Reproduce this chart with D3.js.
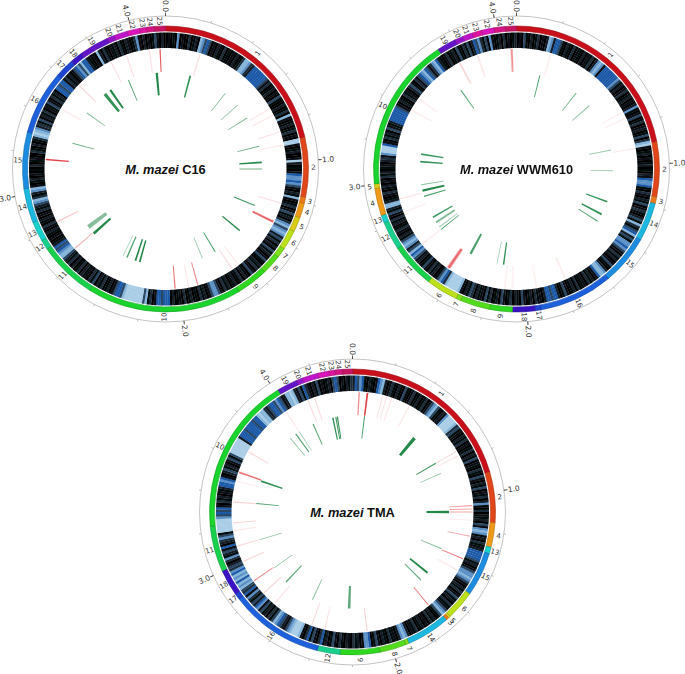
<!DOCTYPE html>
<html>
<head>
<meta charset="utf-8">
<script src="https://cdn.jsdelivr.net/npm/d3@7"></script>
<style>
  body { margin: 0; background: #fff; }
  svg { display: block; }
  .mb-label, .contig-label { font-family: "DejaVu Sans", sans-serif; fill: #333; }
  .title { font-family: "Liberation Sans", Arial, sans-serif; font-weight: bold; fill: #111; }
</style>
</head>
<body>
<div id="chart"></div>
<script>
// marks below were read on one common ruler, each genome's axis has its own length
const rulerMb = 4.16;
const c16Mb = 4.16, wwmMb = 4.096, tmaMb = 4.4;

// contig id -> ribbon colour
const contigColors = ['#c9101a','#e0461a','#ea7a1a','#ee9a18','#d8cc18','#bce01a','#7ee01a','#52dc1c','#2ed81e','#18d42c',
  '#18d04c','#18d08c','#18d0cc','#1cb8e0','#1c8ce0','#1c60dc','#1c44d0','#3a14c4','#6414c8','#9414c8',
  '#c014c8','#dc14bc','#dc14a0','#d41484','#c81464'];

// C16
const c16Contigs = [1,2,3,4,5,6,7,8,9,10,11,12,13,14,15,16,17,18,19,20,21,22,23,24,25];
const c16Ends = [0.892,1.173,1.202,1.271,1.340,1.433,1.479,1.572,1.722,2.450,2.727,2.773,2.866,3.028,3.293,3.594,3.686,3.744,3.883,3.917,3.981,4.039,4.073,4.108,4.16];
const c16Heat = [
  0,2,0,1,0,7,0,2,0,0,4,0,1,3,0,8,7,5,6,5,0,2,0,3,1,0,4,0,1,0,
  2,0,3,0,1,4,8,8,7,4,3,6,6,6,6,6,6,6,5,2,4,0,1,3,0,2,0,5,1,0,
  0,3,0,1,4,0,8,2,0,1,3,0,1,4,0,2,0,9,9,2,0,1,3,0,0,2,9,3,0,1,
  0,2,6,7,7,6,7,5,2,0,3,1,8,2,0,1,4,0,2,5,1,3,0,4,7,8,5,7,8,7,
  3,5,1,4,0,3,0,5,1,3,0,2,5,1,0,3,1,4,0,2,5,0,1,3,0,4,1,0,3,1,
  0,3,1,4,0,2,5,7,7,5,2,0,3,1,4,0,1,0,3,1,0,4,0,2,1,0,3,0,6,6,
  6,5,6,6,2,0,4,1,8,5,9,9,9,9,9,9,9,9,8,5,6,6,5,2,0,3,1,0,4,1,
  3,0,5,1,4,0,2,1,3,0,4,1,0,3,0,4,1,3,5,8,8,7,6,5,6,3,1,0,2,0,
  1,3,0,2,4,0,1,3,0,2,0,4,1,3,5,7,8,4,1,3,7,8,2,0,1,3,0,2,0,1,
  0,3,0,1,2,0,0,4,1,0,3,0,1,4,8,9,8,7,3,4,1,5,0,3,1,4,0,2,1,5,
  2,0,4,1,3,0,6,6,5,6,6,2,4,1,3,0,2,5,6,7,5,8,6,6,3,1,0,2,0,8,
  3,0,4,1,0,2,1,3,0,4,1,0,3,2,0,1,4,7,2,0,3,0,2,0,1,5,2,0,3,0];
const c16RedPos = [4.130,4.070,3.941,3.848,3.629,3.467,3.172,2.820,2.643,2.027,1.951,1.900,1.691,1.649,1.341,1.230,0.907,0.832,0.734,0.693,0.193];
const c16RedLen = [.007,.006,.006,.006,.006,.006,.008,.006,.006,.007,.006,.007,.006,.006,.012,.006,.006,.006,.006,.006,.006];
const c16RedScore = [.8,.22,.22,.22,.28,.18,.9,.4,.5,.7,.18,.6,.25,.18,.75,.22,.2,.2,.2,.2,.25];
const c16GreenPos = [4.100,0.172,3.899,3.756,3.710,3.530,3.299,0.443,0.560,0.670,0.882,0.994,1.040,1.297,1.499,1.722,1.820,2.259,2.290,2.352,2.381,2.635,2.693];
const c16GreenLen = [.016,.012,.007,.016,.022,.007,.007,.006,.006,.007,.007,.012,.012,.008,.01,.008,.006,.012,.012,.01,.005,.018,.03];
const c16GreenScore = [.95,.9,.8,.95,.9,.6,.7,.6,.6,.7,.7,.95,.5,.85,.9,.8,.55,.95,.95,.8,.5,.95,.6];

// WWM610
const wwmContigs = [1,2,3,14,15,16,17,18,9,8,7,6,11,12,13,4,5,10,19,20,21,23,22,24,25];
const wwmEnds = [0.912,1.171,1.202,1.383,1.618,1.964,1.993,2.099,2.207,2.346,2.369,2.519,2.731,2.866,2.901,3.030,3.051,3.777,3.866,3.906,3.952,3.998,4.056,4.108,4.16];
const wwmHeat = [
  0,2,0,5,1,0,3,0,1,4,0,2,0,3,8,7,3,6,6,5,1,0,3,1,0,4,0,2,1,0,
  3,0,2,1,4,0,3,7,8,7,2,6,6,6,6,6,6,6,7,5,1,3,0,2,4,0,1,3,0,2,
  0,3,7,1,0,2,5,0,1,4,0,2,3,0,1,5,0,4,8,9,2,0,1,3,0,2,0,1,3,0,
  1,0,3,2,6,7,7,6,1,0,4,2,0,3,1,5,0,2,4,1,0,3,5,1,8,4,1,5,6,8,
  3,5,1,7,7,6,7,5,2,0,4,1,3,0,2,5,1,0,3,7,8,8,6,2,0,3,1,4,0,2,
  1,0,4,0,3,1,0,2,5,1,0,3,6,6,5,6,6,3,0,2,1,4,0,3,1,0,2,5,0,1,
  3,0,4,1,0,2,5,0,3,1,0,4,1,5,0,2,1,3,0,4,5,1,3,0,2,8,9,9,9,9,
  9,8,4,6,7,5,1,0,3,1,4,0,2,5,1,0,3,2,5,7,6,8,5,3,7,8,7,5,1,3,
  0,2,4,1,0,3,1,4,0,2,5,1,3,8,8,3,1,0,2,4,0,1,3,0,2,0,4,1,3,0,
  1,2,0,3,4,2,7,9,9,9,6,2,0,4,1,3,0,5,2,1,3,6,6,6,6,6,6,5,2,0,
  3,1,0,4,1,2,0,3,5,1,0,4,2,5,6,7,8,6,5,2,4,7,8,6,3,1,0,2,4,0,
  1,3,0,5,1,0,4,1,5,0,3,6,5,7,4,1,5,0,7,2,0,1,3,0,4,0,2,0,1,3];
const wwmRedPos = [4.133,3.941,3.834,3.533,3.459,2.954,2.877,2.675,2.479,2.145,2.103,1.970,1.803,0.927,0.751,0.716,0.192];
const wwmRedLen = [.007,.006,.006,.006,.006,.006,.006,.006,.018,.006,.006,.006,.006,.006,.006,.006,.006];
const wwmRedScore = [.85,.22,.4,.18,.18,.22,.18,.18,.75,.18,.18,.18,.22,.15,.15,.15,.18];
const wwmGreenPos = [0.162,0.441,0.566,0.908,1.052,1.269,1.364,1.419,2.169,2.215,2.409,2.673,2.693,2.732,2.773,2.929,2.970,3.012,3.171,3.222,3.753];
const wwmGreenLen = [.007,.008,.006,.007,.007,.01,.012,.008,.01,.006,.016,.007,.007,.016,.011,.009,.016,.007,.012,.012,.008];
const wwmGreenScore = [.8,.6,.65,.55,.5,.9,.9,.75,.9,.5,.8,.8,.5,.6,.85,.8,.95,.6,.9,.85,.75];

// TMA
const tmaContigs = [1,2,4,13,15,6,5,3,14,7,8,9,12,16,17,18,11,10,19,20,21,22,23,24,25];
const tmaEnds = [0.852,1.091,1.205,1.236,1.444,1.582,1.592,1.606,1.812,1.826,1.951,2.138,2.245,2.687,2.716,2.839,3.054,3.798,3.894,3.923,3.998,4.050,4.079,4.114,4.16];
const tmaHeat = [
  3,6,5,7,6,1,0,3,1,0,2,6,7,8,3,0,2,4,1,0,3,1,0,5,1,0,2,4,0,1,
  3,0,1,4,0,2,5,7,8,5,1,0,3,2,7,9,9,9,9,8,4,5,1,2,0,3,1,4,0,2,
  0,1,4,0,3,1,5,0,2,1,0,4,1,0,5,2,0,3,1,5,0,2,1,4,0,3,7,1,0,4,
  0,2,1,3,0,5,2,7,8,7,1,3,0,4,1,2,3,6,6,6,6,5,1,3,0,2,5,7,7,8,
  7,5,2,0,3,1,4,0,2,5,1,3,0,4,1,2,5,7,8,5,1,0,3,1,4,0,2,0,3,1,
  0,4,1,2,0,3,7,8,7,3,0,2,1,4,0,1,3,0,2,5,1,0,6,7,7,2,0,3,1,4,
  0,2,3,0,1,4,0,2,5,1,0,3,1,6,4,0,2,5,1,6,4,0,2,8,9,9,9,8,7,5,
  2,3,5,6,7,8,5,1,4,0,3,1,5,2,7,6,3,5,1,4,7,2,6,4,5,8,7,8,6,8,
  7,8,6,7,4,5,3,0,4,7,1,3,5,2,6,0,3,4,7,5,1,9,9,9,9,9,9,7,5,6,
  5,6,2,0,4,1,3,0,2,1,3,6,6,7,6,2,0,3,5,1,3,0,2,5,1,5,9,9,9,9,
  9,9,9,3,6,6,6,5,6,6,6,6,5,6,6,8,9,8,8,4,3,5,6,6,5,7,6,5,2,3,
  8,8,9,8,3,2,5,1,6,4,2,0,3,1,5,0,2,0,1,3,0,5,6,5,0,2,0,3,1,4];
const tmaRedPos = [0.037,0.083,0.168,0.191,0.220,0.326,0.690,0.716,1.005,1.023,1.040,1.086,1.175,1.305,1.375,1.627,1.999,2.234,2.309,2.547,2.630,2.716,2.838,2.929,3.016,3.059,3.176,3.293,3.343,3.467,3.772,3.909,3.948];
const tmaRedLen = [.008,.01,.006,.006,.006,.006,.006,.006,.006,.006,.006,.006,.006,.006,.006,.006,.006,.006,.006,.006,.006,.006,.006,.006,.006,.006,.006,.006,.01,.006,.006,.006,.006];
const tmaRedScore = [.6,.9,.2,.2,.2,.2,.25,.2,.55,.5,.5,.15,.5,.7,.2,.7,.3,.2,.25,.2,.3,.6,.3,.25,.2,.3,.3,.15,.7,.3,.2,.25,.25];
const tmaGreenPos = [0.083,0.462,0.689,0.768,1.040,1.299,1.491,1.558,2.103,2.363,2.583,2.710,2.928,3.178,3.336,3.696,3.744,3.772,3.881,4.024,4.045,4.056];
const tmaGreenLen = [.007,.024,.009,.006,.018,.007,.015,.008,.018,.007,.009,.006,.006,.007,.012,.006,.008,.006,.008,.01,.008,.008];
const tmaGreenScore = [.85,.95,.85,.6,.95,.6,.95,.7,.75,.6,.75,.6,.55,.8,.9,.6,.8,.5,.75,.9,.85,.9];

const width = 685, height = 674;

const svg = d3.select('#chart').append('svg')
  .attr('width', width)
  .attr('height', height);

const defs = svg.append('defs');
defs.append('filter').attr('id', 'soft')
  .append('feGaussianBlur').attr('stdDeviation', 0.3);
defs.append('filter').attr('id', 'softer')
  .append('feGaussianBlur').attr('stdDeviation', 0.25);

const heatColor = d3.scaleLinear()
  .domain([0,1,2,3,4,5,6,7,8,9])
  .range(['#020304','#05090c','#0a1117','#121d26','#1d2d3b','#2a4763','#1c5aa8','#5a90c6','#86b5da','#a9cde6']);

const angle = d3.scaleLinear().domain([0, rulerMb]).range([0, 2 * Math.PI]);

// score -> opacity of the red and green tracks
const trackOpacity = d3.scalePow().exponent(1.3).domain([0, 1]).range([0, 1]);

// radii of the rings
const r = { axis: 153, ribbonOut: 143, ribbonIn: 138, heatOut: 136.5, heatIn: 121, redOut: 120, redIn: 97, greenOut: 96.5, greenIn: 74 };

const toDeg = a => a * 180 / Math.PI;

// radial labels, read from outside in on the left half and inside out on the right
function radialText(sel, scale, pos, radius, anchorInner) {
  sel.attr('transform', (d, i) => {
      const deg = toDeg(scale(pos(d, i)));
      const right = deg > 0 && deg < 180;
      return 'rotate(' + (deg - 90) + ') translate(' + radius + ',0)' + (right ? '' : ' rotate(180)');
    })
    .attr('text-anchor', (d, i) => {
      if (!anchorInner) return 'middle';
      const a = scale(pos(d, i));
      return (a > 0 && a < Math.PI) ? 'start' : 'end';
    })
    .attr('dy', '0.35em');
}

function drawTrack(g, pos, len, score, color, r0, r1) {
  const wedge = d3.arc().innerRadius(r0).outerRadius(r1);
  g.append('g').attr('filter', 'url(#softer)').selectAll('path')
    .data(pos)
    .join('path')
    .attr('d', (d, i) => wedge({ startAngle: angle(d - len[i] / 2), endAngle: angle(d + len[i] / 2) }))
    .attr('fill', color)
    .attr('opacity', (d, i) => trackOpacity(score[i]));
}

function drawGenome(opts) {
  const g = svg.append('g').attr('transform', 'translate(' + opts.cx + ',' + opts.cy + ')');

  // Mb axis
  const axis = d3.scaleLinear().domain([0, opts.mb]).range([0, 2 * Math.PI]);
  g.append('circle').attr('r', r.axis).attr('fill', 'none').attr('stroke', '#aaa').attr('stroke-width', 0.7);
  g.append('g').selectAll('line')
    .data(axis.ticks(20))
    .join('line')
    .attr('transform', d => 'rotate(' + (toDeg(axis(d)) - 90) + ')')
    .attr('x1', r.axis).attr('x2', r.axis + 2)
    .attr('stroke', '#999').attr('stroke-width', 0.6);
  g.append('g').selectAll('line')
    .data(axis.ticks(4))
    .join('line')
    .attr('transform', d => 'rotate(' + (toDeg(axis(d)) - 90) + ')')
    .attr('x1', r.axis).attr('x2', r.axis + 3.5)
    .attr('stroke', '#333').attr('stroke-width', 0.8);
  g.append('g').selectAll('text')
    .data(axis.ticks(4))
    .join('text')
    .attr('class', 'mb-label')
    .attr('font-size', 7.5)
    .text(d3.format('.1f'))
    .call(radialText, axis, d => d, r.axis + 4, true);

  // contig ribbon
  const starts = opts.ends.map((e, i) => i ? opts.ends[i - 1] : 0);
  const ribbon = d3.arc().innerRadius(r.ribbonIn).outerRadius(r.ribbonOut);
  g.append('g').selectAll('path')
    .data(opts.contigs)
    .join('path')
    .attr('d', (d, i) => ribbon({ startAngle: angle(starts[i]), endAngle: angle(opts.ends[i]) }))
    .attr('fill', d => contigColors[d - 1])
    .attr('stroke', d => d3.color(contigColors[d - 1]).darker(0.8))
    .attr('stroke-width', 0.6);
  g.append('g').selectAll('text')
    .data(opts.contigs)
    .join('text')
    .attr('class', 'contig-label')
    .attr('font-size', 7)
    .text(d => d)
    .call(radialText, angle, (d, i) => (starts[i] + opts.ends[i]) / 2, 148, false);

  // expression heat ring
  const binMb = rulerMb / opts.heat.length;
  const cell = d3.arc().innerRadius(r.heatIn).outerRadius(r.heatOut);
  g.append('g').attr('filter', 'url(#soft)').selectAll('path')
    .data(opts.heat)
    .join('path')
    .attr('d', (d, i) => cell({ startAngle: angle(i * binMb), endAngle: angle((i + 1) * binMb) + 0.002 }))
    .attr('fill', d => heatColor(d));

  drawTrack(g, opts.redPos, opts.redLen, opts.redScore, '#e0262a', r.redIn, r.redOut);
  drawTrack(g, opts.greenPos, opts.greenLen, opts.greenScore, '#14803c', r.greenIn, r.greenOut);

  const title = g.append('text').attr('class', 'title').attr('font-size', 12.8)
    .attr('text-anchor', 'middle').attr('y', 4.5);
  title.append('tspan').attr('font-style', 'italic').text('M. mazei');
  title.append('tspan').text(' ' + opts.name);
}

drawGenome({ name: 'C16', mb: c16Mb, cx: 165.5, cy: 169, contigs: c16Contigs, ends: c16Ends, heat: c16Heat,
  redPos: c16RedPos, redLen: c16RedLen, redScore: c16RedScore,
  greenPos: c16GreenPos, greenLen: c16GreenLen, greenScore: c16GreenScore });
drawGenome({ name: 'WWM610', mb: wwmMb, cx: 516.5, cy: 169, contigs: wwmContigs, ends: wwmEnds, heat: wwmHeat,
  redPos: wwmRedPos, redLen: wwmRedLen, redScore: wwmRedScore,
  greenPos: wwmGreenPos, greenLen: wwmGreenLen, greenScore: wwmGreenScore });
drawGenome({ name: 'TMA', mb: tmaMb, cx: 352.5, cy: 512, contigs: tmaContigs, ends: tmaEnds, heat: tmaHeat,
  redPos: tmaRedPos, redLen: tmaRedLen, redScore: tmaRedScore,
  greenPos: tmaGreenPos, greenLen: tmaGreenLen, greenScore: tmaGreenScore });
</script>
</body>
</html>
